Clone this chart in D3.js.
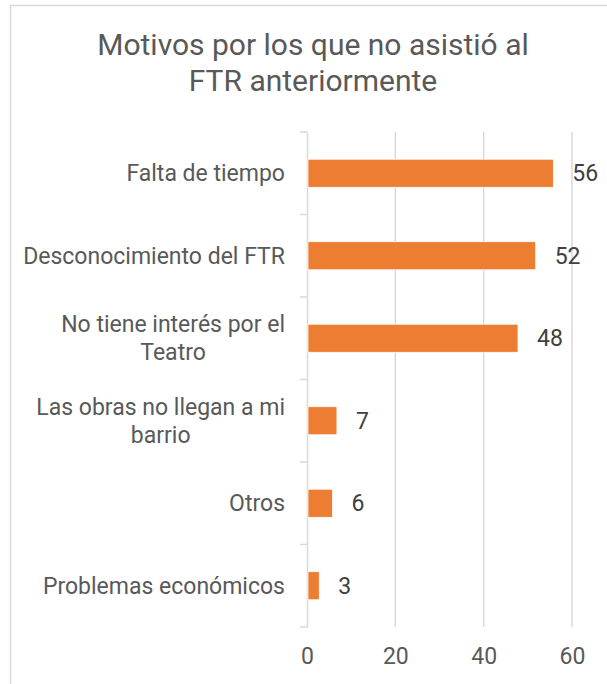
<!DOCTYPE html>
<html>
<head>
<meta charset="utf-8">
<script src="https://cdn.jsdelivr.net/npm/d3@7"></script>
<style>
  body { margin: 0; background: #fff; }
  text { font-family: Roboto, "Noto Sans", sans-serif; }
</style>
</head>
<body>
<div id="chart"></div>
<script>
// Data

const categories = [
    "Falta de tiempo",
    "Desconocimiento del FTR",
    "No tiene interés por el Teatro",
    "Las obras no llegan a mi barrio",
    "Otros",
    "Problemas económicos"
];
const values = [56, 52, 48, 7, 6, 3];
const xTicks = [0, 20, 40, 60];
const titleLines = ["Motivos por los que no asistió al", "FTR anteriormente"];

// Dimensions

const W = 607, H = 684;
const margin = {top: 132, right: 35, bottom: 57, left: 307};
const fontSize = 23;

const svg = d3.select("#chart").append("svg")
    .attr("width", W)
    .attr("height", H);

// chart border
svg.append("rect")
    .attr("x", 10.5).attr("y", 5.5)
    .attr("width", W + 20).attr("height", H + 20)
    .attr("fill", "#fff")
    .attr("stroke", "#d9d9d9")
    .attr("stroke-width", 1.5);

// Title
svg.append("text")
    .attr("x", 313)
    .attr("y", 55)
    .attr("text-anchor", "middle")
    .style("font-size", "30px")
    .style("fill", "#595959")
    .selectAll("tspan")
    .data(titleLines)
    .join("tspan")
        .attr("x", 313)
        .attr("dy", (d, i) => i === 0 ? 0 : 36)
        .text(d => d);

// Scales

const x = d3.scaleLinear()
    .domain([0, 60])
    .range([margin.left, W - margin.right]);

const y = d3.scaleBand()
    .domain(categories)
    .range([margin.top, H - margin.bottom])
    .paddingInner(0.66)
    .paddingOuter(0.33);

// Gridlines
svg.append("g")
    .selectAll("line")
    .data(xTicks.slice(1))
    .join("line")
        .attr("x1", d => x(d)).attr("x2", d => x(d))
        .attr("y1", margin.top).attr("y2", H - margin.bottom)
        .attr("stroke", "#d9d9d9")
        .attr("stroke-width", 1.5);

// X axis labels (no line, just numbers)
const xAxis = svg.append("g")
    .attr("transform", "translate(0," + (H - margin.bottom) + ")")
    .call(d3.axisBottom(x).tickValues(xTicks).tickSize(0).tickPadding(21));
xAxis.select(".domain").remove();
xAxis.selectAll("text")
    .style("font-size", fontSize + "px")
    .style("fill", "#595959")
    .style("font-family", "Roboto, sans-serif");

// Y axis
const yAxis = svg.append("g")
    .attr("transform", "translate(" + margin.left + ",0)")
    .call(d3.axisLeft(y).tickSize(0).tickPadding(22));
yAxis.select(".domain")
    .attr("stroke", "#d9d9d9")
    .attr("stroke-width", 1.5);
yAxis.selectAll("text")
    .style("font-size", fontSize + "px")
    .style("fill", "#595959")
    .style("font-family", "Roboto, sans-serif");

// category boundary tick marks
const step = y.step();
const bounds = categories.map(c => y(c) - y.paddingInner() * step / 2).concat([H - margin.bottom]);
svg.append("g")
    .selectAll("line")
    .data(bounds)
    .join("line")
        .attr("x1", margin.left - 7).attr("x2", margin.left)
        .attr("y1", d => d).attr("y2", d => d)
        .attr("stroke", "#d9d9d9")
        .attr("stroke-width", 1.5);

// wrap long labels into centered lines
function wrap(textSel, width) {
    textSel.each(function() {
        const text = d3.select(this);
        const words = text.text().split(/\s+/);
        const xPos = +text.attr("x");
        text.text(null);
        let lines = [], line = [];
        const probe = text.append("tspan");
        words.forEach(w => {
            line.push(w);
            probe.text(line.join(" "));
            if (probe.node().getComputedTextLength() > width && line.length > 1) {
                line.pop();
                lines.push(line.join(" "));
                line = [w];
            }
        });
        lines.push(line.join(" "));
        probe.remove();
        const widths = lines.map(l => {
            const t = text.append("tspan").text(l);
            const w = t.node().getComputedTextLength();
            t.remove();
            return w;
        });
        const maxW = d3.max(widths);
        const lh = 28;
        text.attr("dy", null);
        lines.forEach((l, i) => {
            text.append("tspan")
                .attr("x", xPos - maxW / 2)
                .attr("text-anchor", "middle")
                .attr("y", (i - (lines.length - 1) / 2) * lh + 8)
                .text(l);
        });
    });
}
yAxis.selectAll("text").call(wrap, 275);

// Bars
svg.append("g")
    .selectAll("rect")
    .data(values)
    .join("rect")
        .attr("x", x(0) + 1)
        .attr("y", (d, i) => y(categories[i]))
        .attr("width", d => x(d) - x(0) - 2)
        .attr("height", y.bandwidth())
        .attr("fill", "#ED7D31")
        .attr("stroke", "#fff")
        .attr("stroke-width", 0.75);

// Value labels
svg.append("g")
    .selectAll("text")
    .data(values)
    .join("text")
        .attr("x", d => x(d) + 18)
        .attr("y", (d, i) => y(categories[i]) + y.bandwidth() / 2 + 8)
        .style("font-size", fontSize + "px")
        .style("fill", "#404040")
        .text(d => d);
</script>
</body>
</html>
